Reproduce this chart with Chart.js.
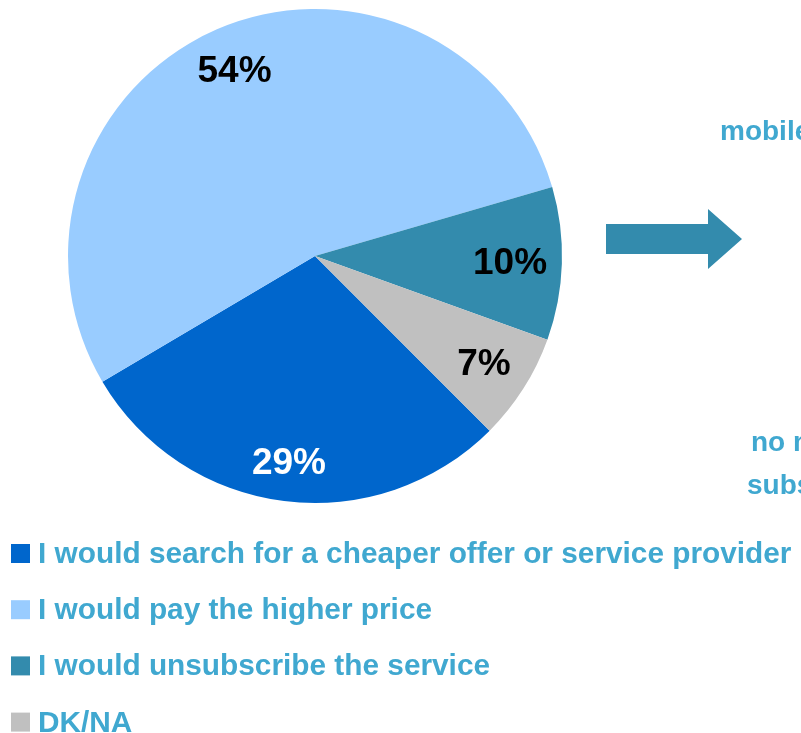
<!DOCTYPE html>
<html>
<head>
<meta charset="utf-8">
<script src="https://cdn.jsdelivr.net/npm/chart.js@4"></script>
<style>
  html, body { margin: 0; padding: 0; background: #fff; }
  #wrap { width: 801px; height: 733px; position: relative; }
</style>
</head>
<body>
<div id="wrap"><canvas id="priceChart" width="801" height="733"></canvas></div>
<script>
// answers to "what would you do if the price went up"
const answers = [
    "I would search for a cheaper offer or service provider",
    "I would pay the higher price",
    "I would unsubscribe the service",
    "DK/NA"
];
const shares = [29, 54, 10, 7];
const sliceColors = ["#0066cc", "#99ccff", "#338bad", "#c0c0c0"];
const labelColors = ["#ffffff", "#000000", "#000000", "#000000"];
const sideNotes = ["mobile internet users", "no mobile internet", "subscription"];

const textBlue = "#40a8d0";
// how far out (share of radius) each percent label sits
const labelDepth = [0.84, 0.82, 0.79, 0.81];

// percent labels placed along each slice's middle angle
const sliceLabels = {
    id: "sliceLabels",
    afterDatasetsDraw(chart) {
        const ctx = chart.ctx;
        const meta = chart.getDatasetMeta(0);
        ctx.save();
        ctx.font = "bold 37px 'Liberation Sans', Arial, sans-serif";
        ctx.textAlign = "center";
        ctx.textBaseline = "middle";
        meta.data.forEach((arc, i) => {
            const p = arc.getProps(["x", "y", "startAngle", "endAngle", "outerRadius"], true);
            const mid = (p.startAngle + p.endAngle) / 2;
            const r = p.outerRadius * labelDepth[i];
            ctx.fillStyle = labelColors[i];
            ctx.fillText(shares[i] + "%", p.x + Math.cos(mid) * r, p.y + Math.sin(mid) * r + 2);
        });
        ctx.restore();
    }
};

// arrow, notes on the right and the stacked legend below the pie
const extras = {
    id: "extras",
    afterDraw(chart) {
        const ctx = chart.ctx;
        ctx.save();

        ctx.fillStyle = sliceColors[2];
        ctx.beginPath();
        ctx.moveTo(606, 224);
        ctx.lineTo(708, 224);
        ctx.lineTo(708, 209);
        ctx.lineTo(742, 239);
        ctx.lineTo(708, 269);
        ctx.lineTo(708, 254);
        ctx.lineTo(606, 254);
        ctx.closePath();
        ctx.fill();

        ctx.fillStyle = textBlue;
        ctx.font = "bold 28px 'Liberation Sans', Arial, sans-serif";
        ctx.textBaseline = "alphabetic";
        ctx.textAlign = "left";
        ctx.fillText(sideNotes[0], 720, 140);
        ctx.fillText(sideNotes[1], 751, 451);
        ctx.fillText(sideNotes[2], 747, 494);

        ctx.font = "bold 29.8px 'Liberation Sans', Arial, sans-serif";
        answers.forEach((txt, i) => {
            const y = 544 + i * 56.2;
            ctx.fillStyle = sliceColors[i];
            ctx.fillRect(11, y, 19, 19);
            ctx.fillStyle = textBlue;
            ctx.fillText(txt, 38, y + 19);
        });
        ctx.restore();
    }
};

new Chart(document.getElementById("priceChart"), {
    type: "pie",
    data: {
        labels: answers,
        datasets: [{
            data: shares,
            backgroundColor: sliceColors,
            borderWidth: 0
        }]
    },
    options: {
        responsive: false,
        animation: false,
        rotation: 135,
        layout: { padding: { left: 68, right: 239, top: 9, bottom: 230 } },
        plugins: {
            legend: { display: false },
            tooltip: { enabled: false }
        }
    },
    plugins: [sliceLabels, extras]
});
</script>
</body>
</html>
